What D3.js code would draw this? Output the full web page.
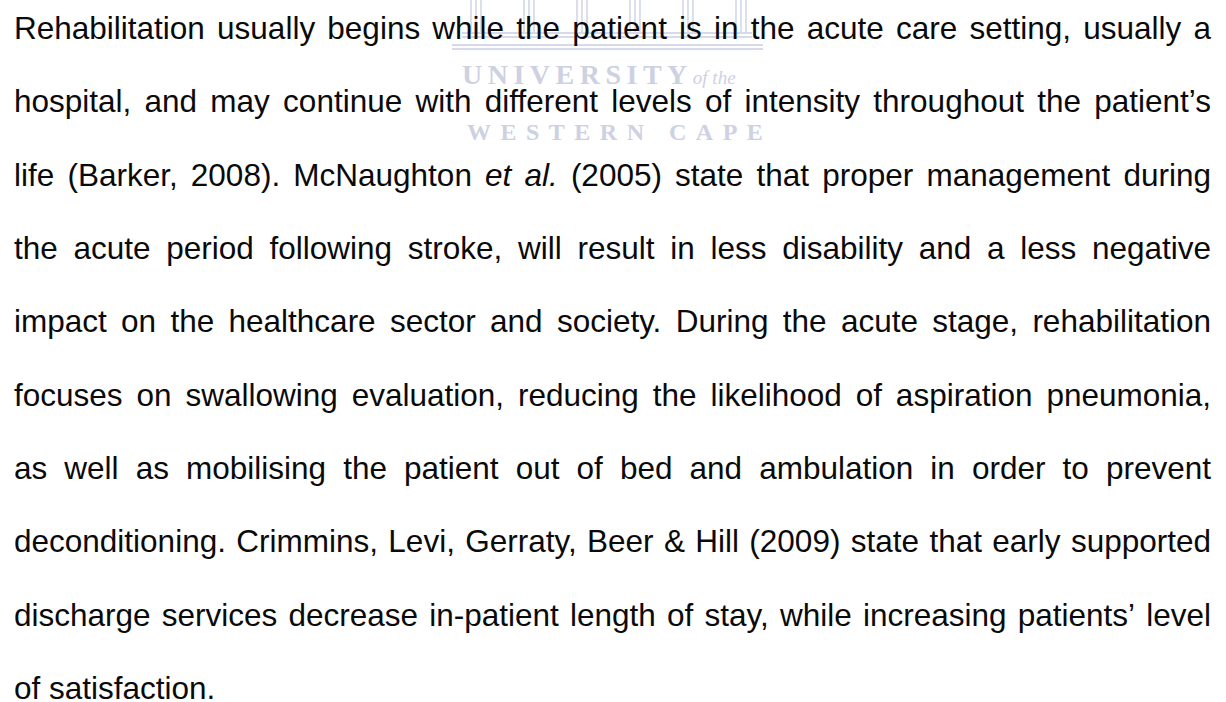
<!DOCTYPE html>
<html>
<head>
<meta charset="utf-8">
<script src="https://cdn.jsdelivr.net/npm/d3@7"></script>
<style>
  html, body { margin: 0; padding: 0; background: #fff; }
  svg { display: block; }
</style>
</head>
<body>
<div id="page"></div>
<script>
// paragraph lines (words wrapped in * are italic)
var lines = [
  "Rehabilitation usually begins while the patient is in the acute care setting, usually a",
  "hospital, and may continue with different levels of intensity throughout the patient\u2019s",
  "life (Barker, 2008). McNaughton *et* *al.* (2005) state that proper management during",
  "the acute period following stroke, will result in less disability and a less negative",
  "impact on the healthcare sector and society. During the acute stage, rehabilitation",
  "focuses on swallowing evaluation, reducing the likelihood of aspiration pneumonia,",
  "as well as mobilising the patient out of bed and ambulation in order to prevent",
  "deconditioning. Crimmins, Levi, Gerraty, Beer & Hill (2009) state that early supported",
  "discharge services decrease in-patient length of stay, while increasing patients\u2019 level",
  "of satisfaction."
];
var watermarkTop = ["UNIVERSITY", "of the"];
var watermarkBottom = "WESTERN CAPE";

var width = 1226, height = 702;
var margin = {left: 14, right: 15};
var fontSize = 31.5;

var svg = d3.select("#page").append("svg")
  .attr("width", width)
  .attr("height", height);

// faded watermark behind the text
var wm = svg.append("g").attr("class", "watermark");
var wmColor = "#cdd1e2";

var pillars = d3.range(6);
var px = d3.scalePoint().domain(pillars).range([476, 741]);
pillars.forEach(function (p) {
  [-5, 0, 5].forEach(function (dx) {
    wm.append("line")
      .attr("x1", px(p) + dx).attr("x2", px(p) + dx)
      .attr("y1", 0).attr("y2", 32)
      .attr("stroke", "#d8dcea").attr("stroke-width", 1.8);
  });
});
[[33, 462, 752], [37, 462, 752], [45, 452, 763], [49, 452, 763]].forEach(function (h) {
  wm.append("line")
    .attr("x1", h[1]).attr("x2", h[2])
    .attr("y1", h[0]).attr("y2", h[0])
    .attr("stroke", "#d6daea").attr("stroke-width", 2);
});

var uni = wm.append("text")
  .attr("x", 462).attr("y", 84)
  .attr("font-family", "Liberation Serif, serif")
  .attr("fill", wmColor);
uni.append("tspan")
  .attr("font-size", 28).attr("font-weight", "bold")
  .attr("letter-spacing", 5.5)
  .text(watermarkTop[0]);
uni.append("tspan")
  .attr("dx", 0)
  .attr("font-size", 19).attr("font-style", "italic")
  .text(watermarkTop[1]);

wm.append("text")
  .attr("x", 467).attr("y", 140)
  .attr("font-family", "Liberation Serif, serif")
  .attr("font-size", 24).attr("font-weight", "bold")
  .attr("letter-spacing", 9.5)
  .attr("fill", wmColor)
  .text(watermarkBottom);

// line positions
var yScale = d3.scaleLinear()
  .domain([0, lines.length - 1])
  .range([39, 699]);

var textW = width - margin.left - margin.right;

var body = svg.append("g")
  .attr("font-family", "Liberation Sans, Arial, Helvetica, sans-serif")
  .attr("font-size", fontSize)
  .attr("fill", "#0a0a0a");

// width of one normal space for the last (unjustified) line
var probe = body.append("text").text("a a");
var probe2 = body.append("text").text("aa");
var spaceW = probe.node().getComputedTextLength() - probe2.node().getComputedTextLength();
probe.remove(); probe2.remove();

lines.forEach(function (line, i) {
  var words = line.split(" ").map(function (w) {
    var it = /^\*.*\*$/.test(w);
    return {t: it ? w.slice(1, -1) : w, italic: it};
  });
  var g = body.append("g").attr("class", "line");
  var nodes = g.selectAll("text")
    .data(words)
    .enter().append("text")
      .attr("y", yScale(i))
      .attr("font-style", function (d) { return d.italic ? "italic" : null; })
      .text(function (d) { return d.t; });
  var widths = [];
  nodes.each(function () { widths.push(this.getComputedTextLength()); });
  var total = d3.sum(widths);
  var last = i === lines.length - 1;
  var gap = last ? spaceW : (textW - total) / (words.length - 1);
  var x = margin.left;
  nodes.attr("x", function (d, j) {
    var cur = x;
    x += widths[j] + gap;
    return cur;
  });
});
</script>
</body>
</html>
